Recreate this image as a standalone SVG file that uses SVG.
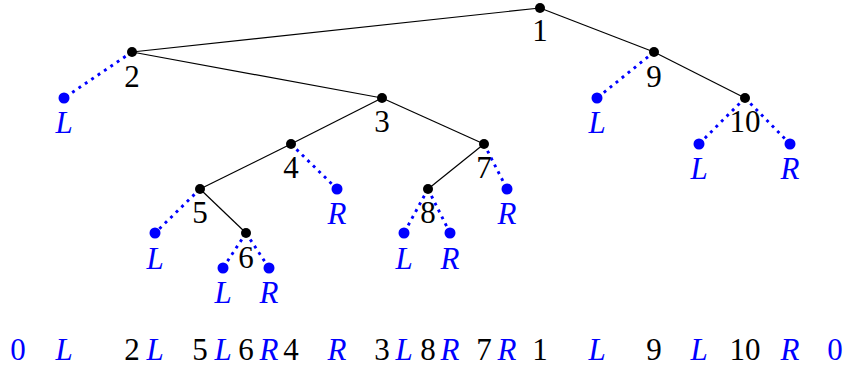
<svg xmlns="http://www.w3.org/2000/svg" width="847" height="369" viewBox="0 0 847 369" font-family="'Liberation Serif', 'DejaVu Serif', serif" font-size="31">
<style>
.e{stroke:#000;stroke-width:1.2;fill:none}
.d{stroke:#0000ff;stroke-width:2.9;stroke-dasharray:2.9 4.8;fill:none}
.n{fill:#000}
.b{fill:#0000ff}
text{text-anchor:middle}
.k{fill:#000}
.bl{fill:#0000ff;font-style:italic}
.bd{fill:#0000ff}
</style>
<g id="connectors">
<line class="e" x1="540" y1="8" x2="132" y2="52"/>
<line class="e" x1="540" y1="8" x2="654" y2="52"/>
<line class="e" x1="132" y1="52" x2="382" y2="98"/>
<line class="e" x1="654" y1="52" x2="745" y2="98"/>
<line class="e" x1="382" y1="98" x2="291" y2="144"/>
<line class="e" x1="382" y1="98" x2="484" y2="144"/>
<line class="e" x1="291" y1="144" x2="200" y2="189"/>
<line class="e" x1="484" y1="144" x2="428" y2="189"/>
<line class="e" x1="200" y1="189" x2="246" y2="233"/>
<line class="d" x1="132" y1="52" x2="64" y2="98"/>
<line class="d" x1="654" y1="52" x2="597" y2="98"/>
<line class="d" x1="745" y1="98" x2="699" y2="144"/>
<line class="d" x1="745" y1="98" x2="790" y2="144"/>
<line class="d" x1="291" y1="144" x2="337" y2="189"/>
<line class="d" x1="484" y1="144" x2="507" y2="189"/>
<line class="d" x1="200" y1="189" x2="155" y2="233"/>
<line class="d" x1="428" y1="189" x2="404" y2="233"/>
<line class="d" x1="428" y1="189" x2="450" y2="233"/>
<line class="d" x1="246" y1="233" x2="223" y2="268"/>
<line class="d" x1="246" y1="233" x2="269" y2="268"/>
</g>
<g id="n1"><circle class="n" cx="540" cy="8" r="5"/><text class="k" x="540" y="41">1</text></g>
<g id="n2"><circle class="n" cx="132" cy="52" r="5"/><text class="k" x="132" y="87">2</text></g>
<g id="n9"><circle class="n" cx="654" cy="52" r="5"/><text class="k" x="654" y="87">9</text></g>
<g id="n3"><circle class="n" cx="382" cy="98" r="5"/><text class="k" x="382" y="132">3</text></g>
<g id="n10"><circle class="n" cx="745" cy="98" r="5"/><text class="k" x="745" y="132">10</text></g>
<g id="n4"><circle class="n" cx="291" cy="144" r="5"/><text class="k" x="291" y="178">4</text></g>
<g id="n7"><circle class="n" cx="484" cy="144" r="5"/><text class="k" x="484" y="178">7</text></g>
<g id="n5"><circle class="n" cx="200" cy="189" r="5"/><text class="k" x="200" y="223">5</text></g>
<g id="n8"><circle class="n" cx="428" cy="189" r="5"/><text class="k" x="428" y="223">8</text></g>
<g id="n6"><circle class="n" cx="246" cy="233" r="5"/><text class="k" x="246" y="268">6</text></g>
<g id="L2"><circle class="b" cx="64" cy="98" r="5.5"/><text class="bl" x="64" y="133">L</text></g>
<g id="L9"><circle class="b" cx="597" cy="98" r="5.5"/><text class="bl" x="597" y="133">L</text></g>
<g id="L10"><circle class="b" cx="699" cy="144" r="5.5"/><text class="bl" x="699" y="179">L</text></g>
<g id="R10"><circle class="b" cx="790" cy="144" r="5.5"/><text class="bl" x="790" y="179">R</text></g>
<g id="R4"><circle class="b" cx="337" cy="189" r="5.5"/><text class="bl" x="337" y="224">R</text></g>
<g id="R7"><circle class="b" cx="507" cy="189" r="5.5"/><text class="bl" x="507" y="224">R</text></g>
<g id="L5"><circle class="b" cx="155" cy="233" r="5.5"/><text class="bl" x="155" y="269">L</text></g>
<g id="L8"><circle class="b" cx="404" cy="233" r="5.5"/><text class="bl" x="404" y="269">L</text></g>
<g id="R8"><circle class="b" cx="450" cy="233" r="5.5"/><text class="bl" x="450" y="269">R</text></g>
<g id="L6"><circle class="b" cx="223" cy="268" r="5.5"/><text class="bl" x="223" y="303">L</text></g>
<g id="R6"><circle class="b" cx="269" cy="268" r="5.5"/><text class="bl" x="269" y="303">R</text></g>
<g id="sequence">
<text class="bd" x="18" y="360">0</text>
<text class="bl" x="64" y="360">L</text>
<text class="k" x="132" y="360">2</text>
<text class="bl" x="155" y="360">L</text>
<text class="k" x="200" y="360">5</text>
<text class="bl" x="223" y="360">L</text>
<text class="k" x="246" y="360">6</text>
<text class="bl" x="269" y="360">R</text>
<text class="k" x="291" y="360">4</text>
<text class="bl" x="337" y="360">R</text>
<text class="k" x="382" y="360">3</text>
<text class="bl" x="404" y="360">L</text>
<text class="k" x="428" y="360">8</text>
<text class="bl" x="450" y="360">R</text>
<text class="k" x="484" y="360">7</text>
<text class="bl" x="507" y="360">R</text>
<text class="k" x="540" y="360">1</text>
<text class="bl" x="597" y="360">L</text>
<text class="k" x="654" y="360">9</text>
<text class="bl" x="699" y="360">L</text>
<text class="k" x="745" y="360">10</text>
<text class="bl" x="790" y="360">R</text>
<text class="bd" x="835" y="360">0</text>
</g>
</svg>
